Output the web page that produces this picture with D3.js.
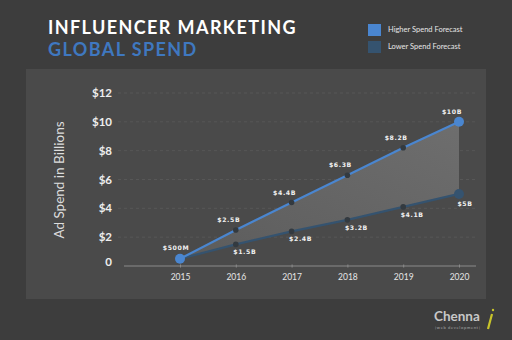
<!DOCTYPE html>
<html><head><meta charset="utf-8">
<script src="https://cdn.jsdelivr.net/npm/d3@7"></script>
<style>body{margin:0;background:#3d3d3d;}svg{display:block;}</style>
</head><body>
<svg id="c" width="512" height="340"></svg>
<script>
const years = [2015, 2016, 2017, 2018, 2019, 2020];
const higher = [0.5, 2.5, 4.4, 6.3, 8.2, 10];
const lower = [0.5, 1.5, 2.4, 3.2, 4.1, 5];
const higherLabels = ["$500M", "$2.5B", "$4.4B", "$6.3B", "$8.2B", "$10B"];
const lowerLabels = ["", "$1.5B", "$2.4B", "$3.2B", "$4.1B", "$5B"];
const yTicks = [0, 2, 4, 6, 8, 10, 12];
const yTickLabels = ["0", "$2", "$4", "$6", "$8", "$10", "$12"];
const seriesNames = ["Higher Spend Forecast", "Lower Spend Forecast"];

const svg = d3.select("#c");
const F = "Lato, 'Open Sans', sans-serif";
svg.append("rect").attr("width",512).attr("height",340).attr("fill","#3d3d3d");
svg.append("rect").attr("x",26).attr("y",69).attr("width",460).attr("height",230).attr("fill","#4a4a4a");

svg.append("text").attr("x",48).attr("y",34).attr("fill","#fff").attr("font-family",F)
  .attr("font-weight","bold").attr("font-size",18).attr("letter-spacing",1.4).text("INFLUENCER MARKETING");
svg.append("text").attr("x",48).attr("y",56).attr("fill","#3f78c0").attr("font-family",F)
  .attr("font-weight","bold").attr("font-size",18).attr("letter-spacing",1.4).text("GLOBAL SPEND");

const legColors = ["#4a86d0", "#35536f"];
seriesNames.forEach((n,i)=>{
  svg.append("rect").attr("x",368).attr("y",24+i*17).attr("width",13).attr("height",12).attr("fill",legColors[i]);
  svg.append("text").attr("x",388).attr("y",32+i*17).attr("fill","#e6e6e6").attr("font-family",F)
    .attr("font-size",7.5).text(n);
});

const x = d3.scalePoint().domain(years).range([180, 459]);
const y = d3.scaleLinear().domain([0,12]).range([266, 93]);

// gridlines
svg.append("g").selectAll("line").data(yTicks.filter(d=>d>0)).join("line")
  .attr("x1",118).attr("x2",476).attr("y1",d=>y(d)).attr("y2",d=>y(d))
  .attr("stroke","#5a5a5a").attr("stroke-width",0.8).attr("stroke-dasharray","3,3");

// y labels
svg.append("g").selectAll("text").data(yTicks).join("text")
  .attr("x",112).attr("y",(d,i)=>d===0? y(d)-0.5 : y(d)+4).attr("text-anchor","end")
  .attr("fill","#eee").attr("font-family",F).attr("font-weight","bold").attr("font-size",11.5)
  .text((d,i)=>yTickLabels[i]);

svg.append("text").attr("transform","translate(64,180) rotate(-90)").attr("text-anchor","middle")
  .attr("fill","#ddd").attr("font-family",F).attr("font-size",13.5).text("Ad Spend in Billions");

// x axis
const xAxis = svg.append("g").attr("transform","translate(0,266)")
  .call(d3.axisBottom(x).tickSize(3).tickPadding(5).tickSizeOuter(0));
xAxis.select(".domain").remove();
xAxis.insert("line",":first-child").attr("x1",124).attr("x2",476).attr("stroke","#8a8a8a").attr("stroke-width",1);
xAxis.selectAll(".tick line").attr("stroke","#8a8a8a").attr("y1",-1.5).attr("y2",1.5);
xAxis.selectAll(".tick text").attr("fill","#e6e6e6").attr("font-family",F).attr("font-size",8.5);

// area between
const idx = d3.range(years.length);
const defs = svg.append("defs");
const g = defs.append("linearGradient").attr("id","ag").attr("x1","0").attr("y1","1").attr("x2","1").attr("y2","0");
g.append("stop").attr("offset","0").attr("stop-color","#5c5c5c");
g.append("stop").attr("offset","1").attr("stop-color","#6e6e6e");
svg.append("path").datum(idx)
  .attr("d", d3.area().x(i=>x(years[i])).y0(i=>y(lower[i])).y1(i=>y(higher[i])))
  .attr("fill","url(#ag)");

const line = arr => d3.line().x(i=>x(years[i])).y(i=>y(arr[i]));
svg.append("path").datum(idx).attr("d",line(lower)).attr("fill","none").attr("stroke","#35536f").attr("stroke-width",2.2);
svg.append("path").datum(idx).attr("d",line(higher)).attr("fill","none").attr("stroke","#4a86d0").attr("stroke-width",2.2);

// markers
svg.append("g").selectAll("circle").data(idx.slice(1,5)).join("circle")
  .attr("cx",i=>x(years[i])).attr("cy",i=>y(lower[i])).attr("r",2.8).attr("fill","#333a40");
svg.append("g").selectAll("circle").data(idx.slice(1,5)).join("circle")
  .attr("cx",i=>x(years[i])).attr("cy",i=>y(higher[i])).attr("r",2.8).attr("fill","#333a40");
svg.append("circle").attr("cx",x(years[0])).attr("cy",y(higher[0])).attr("r",5).attr("fill","#4a86d0");
svg.append("circle").attr("cx",x(years[5])).attr("cy",y(higher[5])).attr("r",5).attr("fill","#4a86d0");
svg.append("circle").attr("cx",x(years[5])).attr("cy",y(lower[5])).attr("r",5).attr("fill","#35536f");

// value labels
svg.append("g").selectAll("text").data(idx).join("text")
  .attr("x",i=> i===0 ? x(years[i])-4 : x(years[i])-7).attr("y",i=>y(higher[i])-(i===0?9:8))
  .attr("text-anchor","middle").attr("fill","#f0f0f0").attr("font-family","'DejaVu Sans', sans-serif")
  .attr("font-weight","bold").attr("font-size",6.2).attr("letter-spacing",0.6).text(i=>higherLabels[i]);
svg.append("g").selectAll("text").data(idx.slice(1)).join("text")
  .attr("x",i=> i===5 ? x(years[i])+6 : x(years[i])+9).attr("y",i=>y(lower[i])+(i===5?12:10))
  .attr("text-anchor","middle").attr("fill","#f0f0f0").attr("font-family","'DejaVu Sans', sans-serif")
  .attr("font-weight","bold").attr("font-size",6.2).attr("letter-spacing",0.6).text(i=>lowerLabels[i]);

// logo
svg.append("text").attr("x",434).attr("y",321).attr("fill","#c8c8c8").attr("font-family",F)
  .attr("font-weight","bold").attr("font-size",13.5).text("Chenna");
svg.append("line").attr("x1",492).attr("y1",314).attr("x2",488).attr("y2",329).attr("stroke","#c8c42a").attr("stroke-width",2.2);
svg.append("circle").attr("cx",493).attr("cy",310).attr("r",1.2).attr("fill","#c8c42a");
svg.append("text").attr("x",435).attr("y",329).attr("fill","#aaa").attr("font-family",F)
  .attr("font-size",4).attr("letter-spacing",0.7).text("[web development]");
</script>
</body></html>
